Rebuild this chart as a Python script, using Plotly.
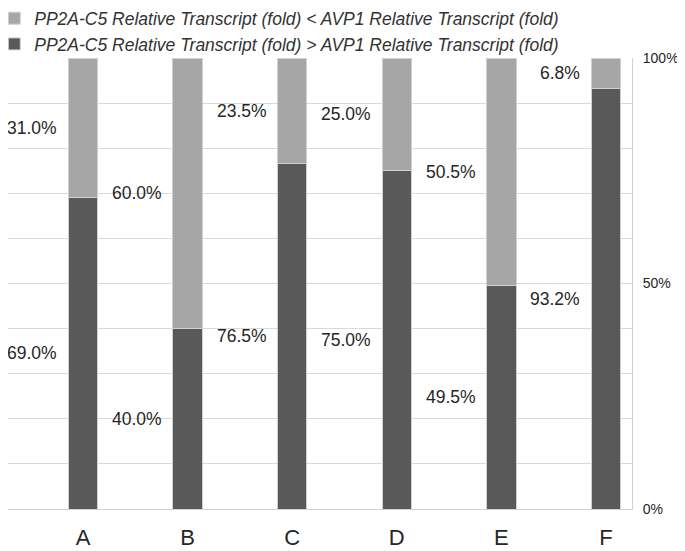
import plotly.graph_objects as go

categories = ["A", "B", "C", "D", "E", "F"]
greater = [69.0, 40.0, 76.5, 75.0, 49.5, 93.2]   # dark, bottom
less = [31.0, 60.0, 23.5, 25.0, 50.5, 6.8]        # light, top

name_less = "PP2A-C5 Relative Transcript (fold) < AVP1 Relative Transcript (fold)"
name_greater = "PP2A-C5 Relative Transcript (fold) > AVP1 Relative Transcript (fold)"

DARK = "#595959"
LIGHT = "#a6a6a6"
FONT = "Liberation Sans, Arial, sans-serif"

fig = go.Figure()
fig.add_trace(go.Bar(x=categories, y=greater, name=name_greater,
                     marker=dict(color=DARK, line=dict(color="#d0d0d0", width=1)),
                     width=0.28))
fig.add_trace(go.Bar(x=categories, y=less, name=name_less,
                     marker=dict(color=LIGHT, line=dict(color="#d0d0d0", width=1)),
                     width=0.28))

annotations = []
for i, (g, l) in enumerate(zip(greater, less)):
    annotations.append(dict(x=i - 0.225, y=g / 2, xref="x", yref="y",
                            text=f"{g:.1f}%", showarrow=False, xanchor="right",
                            font=dict(size=17.5, color="#262626", family=FONT)))
    annotations.append(dict(x=i - 0.225, y=g + l / 2, xref="x", yref="y",
                            text=f"{l:.1f}%", showarrow=False, xanchor="right",
                            font=dict(size=17.5, color="#262626", family=FONT)))

tickvals = list(range(0, 101, 10))
ticktext = [f"{v}%" if v in (0, 50, 100) else "" for v in tickvals]

fig.update_layout(
    width=677, height=543,
    margin=dict(l=0, r=53, t=50, b=42, autoexpand=False),
    barmode="stack",
    plot_bgcolor="white", paper_bgcolor="white",
    font=dict(family=FONT, color="#262626"),
    showlegend=True,
    legend=dict(x=-0.022, y=1.128, xanchor="left", yanchor="top",
                traceorder="reversed", orientation="v",
                font=dict(size=17.5, color="#333333", family=FONT, style="italic"),
                itemwidth=30, tracegroupgap=0, bgcolor="rgba(0,0,0,0)"),
    annotations=annotations,
    xaxis=dict(range=[-0.717, 5.249], showgrid=False, showline=True,
               linecolor="#d0d0d0", linewidth=1, ticks="",
               tickfont=dict(size=22, color="#262626"), ticklabelstandoff=9),
    yaxis=dict(range=[0, 100], side="right", tickvals=tickvals, ticktext=ticktext,
               showgrid=True, gridcolor="#d9d9d9", gridwidth=1,
               showline=True, linecolor="#d0d0d0", linewidth=1, mirror=False,
               zeroline=False, ticks="",
               tickfont=dict(size=14, color="#262626"), ticklabelstandoff=7),
)

fig.write_html("out.html")
